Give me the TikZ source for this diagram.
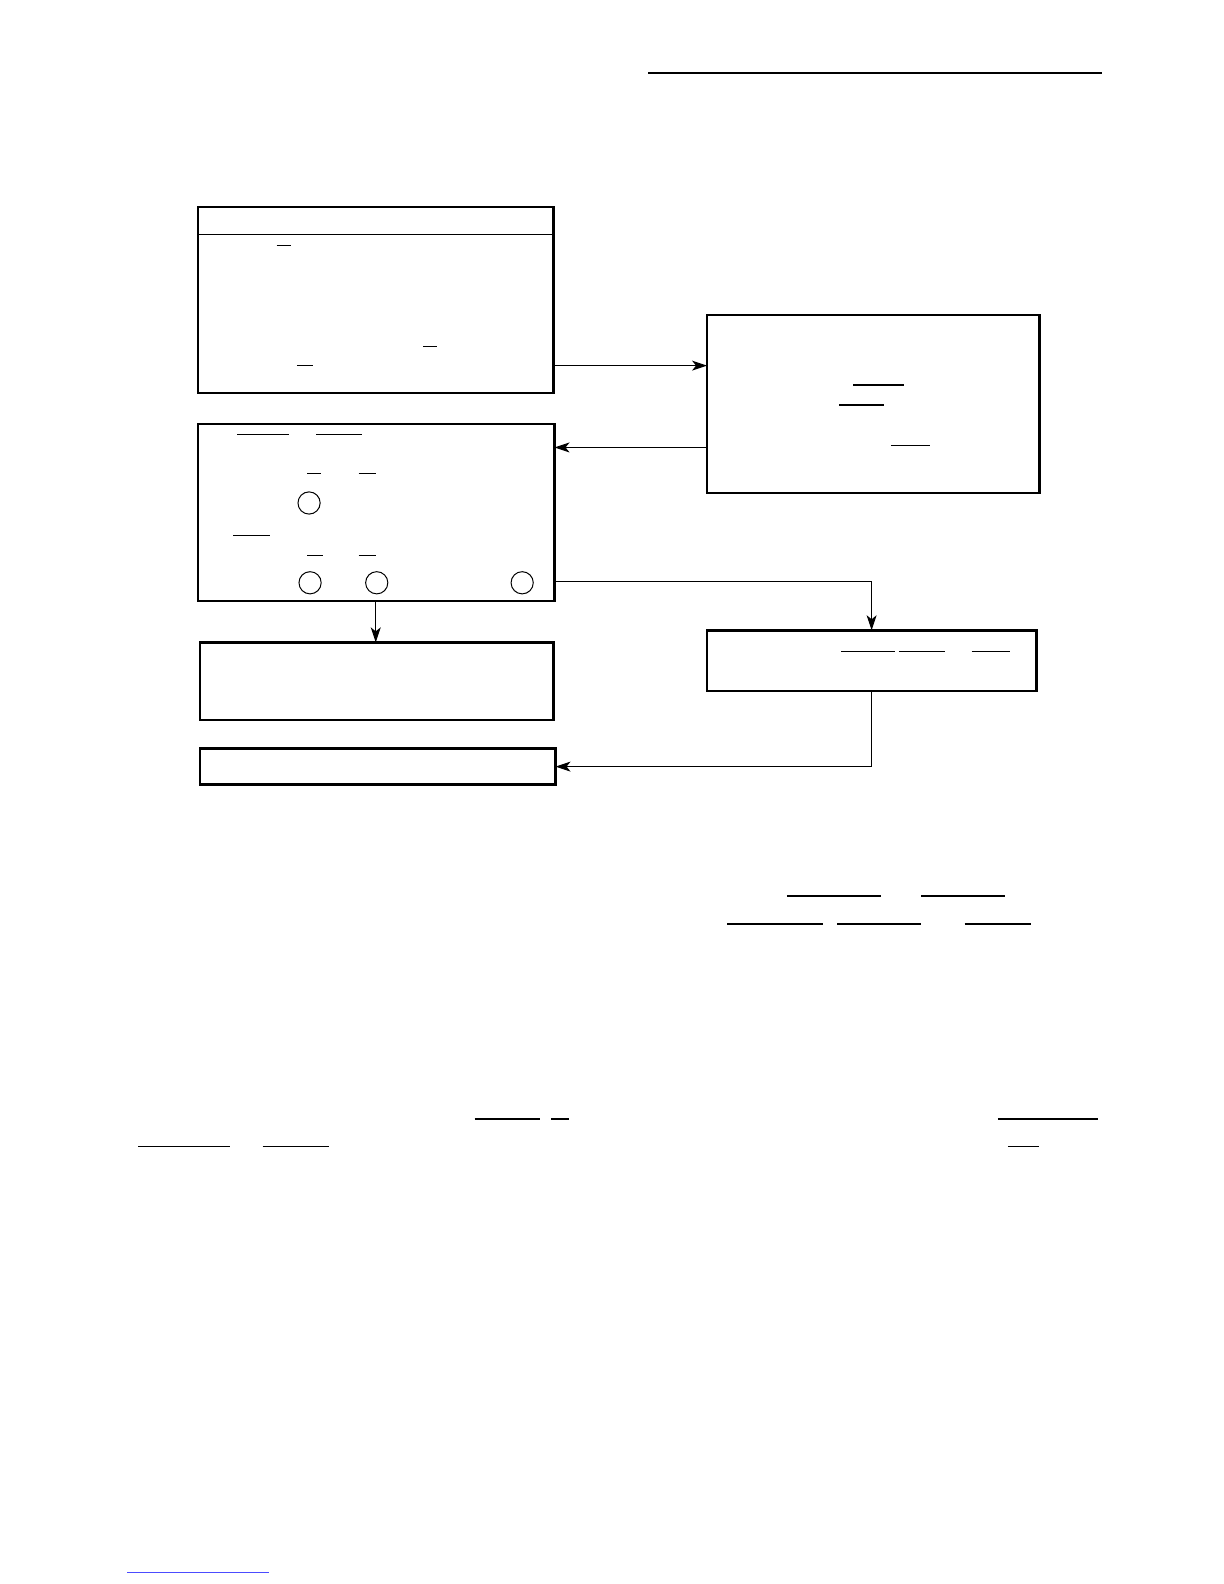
\documentclass[tikz,border=0pt]{standalone}
\usepackage{tikz}
\usetikzlibrary{positioning, arrows.meta}

\begin{document}
\begin{tikzpicture}[x=0.505pt, y=-0.505pt, >={Stealth[length=7.5pt,width=5pt,inset=2pt]},
  box/.style={draw,line width=1.3pt,inner sep=0pt,outer sep=0pt},
  flow/.style={->,line width=0.5pt},
  bar/.style={line width=0.8pt},
  ring/.style={circle,draw,line width=0.5pt,minimum size=11.1pt,inner sep=0pt}]

\useasboundingbox (0,0) rectangle (1211.88,1568.32);

% boxes
\node[box,minimum width=177.8pt,minimum height=92.9pt] (A) at (372,297)   {};
\node[box,minimum width=166.1pt,minimum height=88.9pt] (B) at (864.5,400) {};
\node[box,minimum width=178.3pt,minimum height=88.4pt] (C) at (372.5,507.5) {};
\node[box,minimum width=176.8pt,minimum height=38.9pt] (D) at (373,674.5) {};
\node[box,minimum width=177.8pt,minimum height=18.2pt] (E) at (374,759)   {};
\node[box,minimum width=164.6pt,minimum height=30.3pt] (F) at (863,654)   {};

\draw[line width=0.8pt] (A.west |- 0,232) -- (A.east |- 0,232);

% circled marks in C
\node[ring] (c1) at (306,498) {};
\node[ring] (c2) at (307,577) {};
\node[ring] (c3) at (373,577) {};
\node[ring] (c4) at (517,577) {};

% connectors
\draw[flow] (A.east |- 0,362) -- (B.west |- 0,362);
\draw[flow] (B.west |- 0,443) -- (C.east |- 0,443);
\draw[flow] (C.south -| 372,0) -- (D.north -| 372,0);
\draw[flow] (C.east |- 0,576) -| (F.north);
\draw[flow] (F.south) |- (E.east);

% fraction bars
\draw[bar] (274,243) -- (288,243) (419,343) -- (433,343) (294,362) -- (310,362);
\draw[bar] (235,430) -- (286,430) (313,430) -- (358,430)
  (304,469) -- (318,469) (355,469) -- (372,469)
  (231,530) -- (267,530)
  (304,550) -- (320,550) (355,550) -- (372,550);
\draw[bar] (845,381) -- (895,381) (831,401) -- (875,401) (882,441) -- (921,441);
\draw[bar] (833,645) -- (886,645) (890,645) -- (936,645) (962,645) -- (1000,645);
\draw[bar] (779,887) -- (872,887) (912,887) -- (995,887)
  (720,915) -- (815,915) (829,915) -- (912,915) (955,915) -- (1021,915);
\draw[bar] (470,1108) -- (535,1108) (546,1108) -- (563,1108) (988,1108) -- (1087,1108)
  (137,1135) -- (228,1135) (260,1135) -- (326,1135) (998,1135) -- (1029,1135);

% rules
\draw[line width=0.8pt] (642,72) -- (1091,72);
\draw[blue!70,line width=0.5pt] (126,1557) -- (266,1557);
\end{tikzpicture}
\end{document}
